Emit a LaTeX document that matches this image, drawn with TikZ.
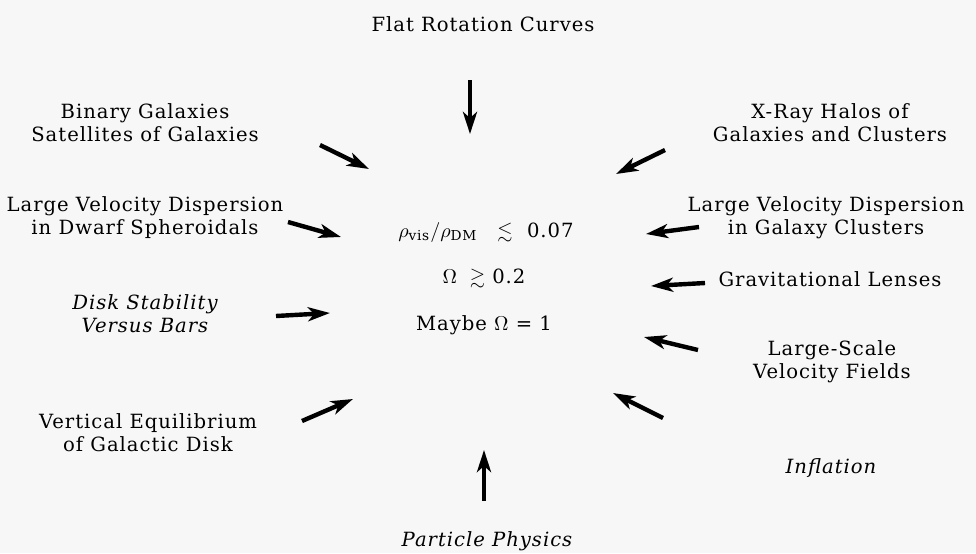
\documentclass[tikz,border=0pt]{standalone}
\usepackage{amsmath}
\usepackage{amssymb}
\usepackage{fontspec}
\setmainfont{DejaVu Serif}[LetterSpace=5]
\usetikzlibrary{arrows.meta, positioning}
\definecolor{paper}{RGB}{247,247,247}

\begin{document}
\begin{tikzpicture}[x=0.5pt, y=-0.5pt,
    label/.style={align=center, font=\fontsize{9.8}{11.5}\selectfont, inner sep=0pt},
    ital/.style={label, font=\fontsize{9.8}{11.5}\selectfont\itshape},
    claim/.style={font=\fontsize{9.8}{11.5}\selectfont, inner sep=0pt},
    arrow/.style={-{Stealth[length=11pt, width=7pt, inset=3pt]}, line width=2.2pt, color=black}
]
    \fill[paper] (0,0) rectangle (976,553);
    \useasboundingbox (0,0) rectangle (976,553);

    % evidence around the circle
    \node[label] (rot)    at (483,24)  {Flat Rotation Curves};
    \node[label] (binary) at (145,123) {Binary Galaxies\\Satellites of Galaxies};
    \node[label] (xray)   at (830,123) {X-Ray Halos of\\Galaxies and Clusters};
    \node[label] (dwarf)  at (145,218) {Large Velocity Dispersion\\in Dwarf Spheroidals};
    \node[label] (clust)  at (826,218) {Large Velocity Dispersion\\in Galaxy Clusters};
    \node[label] (lens)   at (830,279) {Gravitational Lenses};
    \node[ital]  (disk)   at (145,314) {Disk Stability\\Versus Bars};
    \node[label] (flows)  at (832,362) {Large-Scale\\Velocity Fields};
    \node[label] (vert)   at (148,433) {Vertical Equilibrium\\of Galactic Disk};
    \node[ital]  (infl)   at (831,468) {Inflation};
    \node[ital]  (part)   at (487,541) {Particle Physics};

    % conclusions in the middle
    \node[claim] (ratio)  at (486,232) {$\rho_{\text{vis}}/\rho_{\text{DM}}\ \ \lesssim\ \ $0.07};
    \node[claim] (omega)  at (484,278) {$\Omega\ \gtrsim\ $0.2};
    \node[claim] (maybe)  at (484,325) {Maybe\ $\Omega$\ =\ 1};

    % arrow ends
    \coordinate (rot-a)    at (470,80);  \coordinate (rot-b)    at (470,134);
    \coordinate (binary-a) at (320,145); \coordinate (binary-b) at (369,169);
    \coordinate (xray-a)   at (665,150); \coordinate (xray-b)   at (616,174);
    \coordinate (dwarf-a)  at (288,222); \coordinate (dwarf-b)  at (341,237);
    \coordinate (clust-a)  at (699,227); \coordinate (clust-b)  at (646,234);
    \coordinate (lens-a)   at (705,283); \coordinate (lens-b)   at (651,286);
    \coordinate (disk-a)   at (276,316); \coordinate (disk-b)   at (330,313);
    \coordinate (flows-a)  at (698,350); \coordinate (flows-b)  at (644,337);
    \coordinate (vert-a)   at (302,421); \coordinate (vert-b)   at (353,399);
    \coordinate (infl-a)   at (663,418); \coordinate (infl-b)   at (613,393);
    \coordinate (part-a)   at (484,501); \coordinate (part-b)   at (484,450);

    \foreach \src in {rot, binary, xray, dwarf, clust, lens, disk, flows, vert, infl, part}
        \draw[arrow] (\src-a) -- (\src-b);
\end{tikzpicture}
\end{document}
